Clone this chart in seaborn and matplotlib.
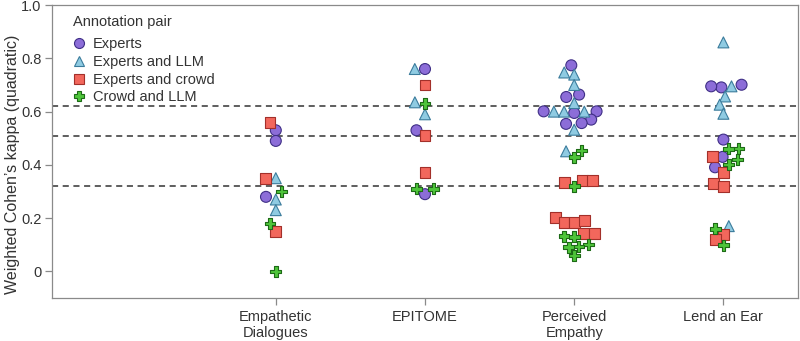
import numpy as np
import pandas as pd
import matplotlib
matplotlib.use("Agg")
import matplotlib.pyplot as plt
from matplotlib.markers import MarkerStyle
from matplotlib.lines import Line2D
import seaborn as sns

# Datasets on the x axis and their tick labels
datasets = ["Empathetic Dialogues", "EPITOME", "Perceived Empathy", "Lend an Ear"]
dataset_labels = ["Empathetic\nDialogues", "EPITOME", "Perceived\nEmpathy", "Lend an Ear"]

# Annotation pairs (legend entries)
pairs = ["Experts", "Experts and LLM", "Experts and crowd", "Crowd and LLM"]

# Weighted Cohen's kappa values per dataset and annotation pair
ed_experts = [0.53, 0.49, 0.28]
ed_experts_llm = [0.35, 0.27, 0.23]
ed_experts_crowd = [0.56, 0.35, 0.15]
ed_crowd_llm = [0.30, 0.18, 0.00]

epi_experts = [0.76, 0.53, 0.29]
epi_experts_llm = [0.76, 0.635, 0.59]
epi_experts_crowd = [0.70, 0.51, 0.37]
epi_crowd_llm = [0.63, 0.31, 0.31]

pe_experts = [0.774, 0.664, 0.655, 0.601, 0.595, 0.601, 0.57, 0.557, 0.554]
pe_experts_llm = [0.747, 0.739, 0.70, 0.632, 0.60, 0.60, 0.60, 0.532, 0.451]
pe_experts_crowd = [0.333, 0.342, 0.342, 0.201, 0.183, 0.183, 0.191, 0.141, 0.141]
pe_crowd_llm = [0.454, 0.429, 0.32, 0.132, 0.13, 0.101, 0.093, 0.091, 0.06]

lae_experts = [0.691, 0.695, 0.701, 0.495, 0.43, 0.391]
lae_experts_llm = [0.86, 0.695, 0.657, 0.626, 0.592, 0.17]
lae_experts_crowd = [0.43, 0.37, 0.33, 0.32, 0.139, 0.12]
lae_crowd_llm = [0.461, 0.46, 0.42, 0.401, 0.16, 0.099]

# Horizontal reference levels
reference_levels = [0.62, 0.51, 0.32]

# Y ticks
y_ticks = [0, 0.2, 0.4, 0.6, 0.8, 1.0]
y_tick_labels = ["0", "0.2", "0.4", "0.6", "0.8", "1.0"]

groups = [
    ("Empathetic Dialogues", [ed_experts, ed_experts_llm, ed_experts_crowd, ed_crowd_llm]),
    ("EPITOME", [epi_experts, epi_experts_llm, epi_experts_crowd, epi_crowd_llm]),
    ("Perceived Empathy", [pe_experts, pe_experts_llm, pe_experts_crowd, pe_crowd_llm]),
    ("Lend an Ear", [lae_experts, lae_experts_llm, lae_experts_crowd, lae_crowd_llm]),
]
rows = []
for name, series in groups:
    for pair, values in zip(pairs, series):
        for v in values:
            rows.append({"dataset": name, "pair": pair, "kappa": v})
df = pd.DataFrame(rows)

fills = ["#8c6dd8", "#8fcbe2", "#f2675c", "#4ec43a"]
edges = ["#3f2f86", "#3b7c9c", "#a3302a", "#1d6a16"]
markers = ["o", "^", "s", "P"]


def marker_path(m):
    ms = MarkerStyle(m)
    return ms.get_path().transformed(ms.get_transform())


paths = [marker_path(m) for m in markers]

sns.set_style("ticks")
plt.rcParams["font.family"] = ["Liberation Sans", "DejaVu Sans"]
text_color = "#333333"
axis_color = "#8a8a8a"

fig = plt.figure(figsize=(8, 3.41), dpi=100)
ax = fig.add_axes([0.065, 0.126, 0.9325, 0.859])

sns.swarmplot(data=df, x="dataset", y="kappa", hue="pair", order=datasets,
              hue_order=pairs, palette=fills, size=7.0, linewidth=0,
              legend=False, ax=ax)
swarm_collections = list(ax.collections)

ax.set_xlim(-1.5, 3.5)
ax.set_ylim(-0.1, 1.0)
fig.canvas.draw()

# Freeze the swarm layout, then give each point its pair's marker and outline
fill_rgb = np.array([matplotlib.colors.to_rgb(c) for c in fills])
for coll in swarm_collections:
    coll.__dict__.pop("draw", None)
    fc = np.asarray(coll.get_facecolors())[:, :3]
    idx = [int(np.argmin(((fill_rgb - c) ** 2).sum(axis=1))) for c in fc]
    coll.set_paths([paths[i] for i in idx])
    coll.set_facecolors([fills[i] for i in idx])
    coll.set_edgecolors([edges[i] for i in idx])
    coll.set_linewidths(0.8)
    coll.set_sizes([62])
    coll.set_zorder(3)

for lvl in reference_levels:
    ax.axhline(lvl, color="#333333", lw=1.1, ls=(0, (4, 3)), zorder=1)

ax.set_yticks(y_ticks)
ax.set_yticklabels(y_tick_labels)
ax.set_xticks(range(len(datasets)))
ax.set_xticklabels(dataset_labels)
ax.set_xlabel("")
ax.set_ylabel("Weighted Cohen’s kappa (quadratic)", fontsize=11.5, color=text_color)
ax.yaxis.set_label_coords(-0.043, 0.455)
ax.tick_params(axis="both", labelsize=10.5, labelcolor=text_color, color=axis_color,
               length=5, width=0.9)
ax.tick_params(axis="y", pad=2.5)
for side in ["left", "right", "top", "bottom"]:
    ax.spines[side].set_visible(True)
    ax.spines[side].set_color(axis_color)
    ax.spines[side].set_linewidth(0.9)

handles = [Line2D([], [], ls="", marker=m, markersize=7.2, markerfacecolor=f,
                  markeredgecolor=e, markeredgewidth=0.8)
           for m, f, e in zip(markers, fills, edges)]
leg = ax.legend(handles, pairs, title="Annotation pair", loc="upper left",
                bbox_to_anchor=(0.018, 0.992), frameon=False, fontsize=10.5,
                title_fontsize=10.5, handlelength=0.9, handletextpad=0.5,
                labelspacing=0.25, borderpad=0, alignment="left")
leg._legend_box.sep = 6.2
for t in leg.get_texts():
    t.set_color(text_color)
leg.get_title().set_color(text_color)

fig.savefig("out.png", dpi=100)
